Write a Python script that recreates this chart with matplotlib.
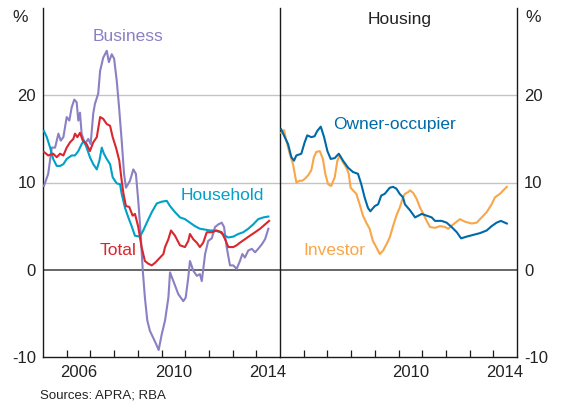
import matplotlib
matplotlib.use("Agg")
import matplotlib.pyplot as plt
from matplotlib.ticker import FixedLocator, NullFormatter

plt.rcParams['font.family'] = ['Liberation Sans', 'DejaVu Sans']

# ---------------- data (growth, %; x in decimal years) ----------------
bus_x = [2005.04, 2005.22, 2005.37, 2005.51, 2005.65, 2005.75, 2005.86, 2006.00, 2006.11, 2006.21,
         2006.32, 2006.42, 2006.49, 2006.56, 2006.63, 2006.77, 2006.91, 2007.01, 2007.12, 2007.19,
         2007.33, 2007.41, 2007.54, 2007.69, 2007.78, 2007.90, 2008.00, 2008.11, 2008.21, 2008.32,
         2008.42, 2008.50, 2008.67, 2008.81, 2008.92, 2009.02, 2009.12, 2009.21, 2009.30, 2009.40,
         2009.51, 2009.65, 2009.77, 2009.88, 2010.01, 2010.15, 2010.29, 2010.36, 2010.50, 2010.71,
         2010.92, 2011.02, 2011.13, 2011.20, 2011.34, 2011.49, 2011.62, 2011.70, 2011.84, 2011.97,
         2012.12, 2012.26, 2012.40, 2012.54, 2012.64, 2012.75, 2012.89, 2013.03, 2013.17, 2013.31,
         2013.41, 2013.52, 2013.66, 2013.81, 2013.95, 2014.08, 2014.23, 2014.37, 2014.51]
bus_y = [9.6, 11.0, 14.0, 14.0, 15.6, 14.8, 15.2, 17.5, 17.1, 18.6,
         19.5, 19.2, 17.1, 18.0, 15.6, 14.4, 15.0, 14.4, 17.9, 19.0,
         20.2, 22.8, 24.3, 25.1, 23.8, 24.7, 24.2, 21.7, 18.6, 14.8,
         11.0, 9.4, 10.2, 11.5, 11.0, 7.9, 4.1, -0.1, -3.2, -5.8,
         -7.0, -7.8, -8.5, -9.2, -7.4, -5.8, -3.2, -0.3, -1.3, -2.8,
         -3.6, -3.2, -0.9, 1.0, -0.1, -0.7, -0.5, -1.3, 1.8, 3.3,
         3.6, 4.9, 5.2, 5.4, 4.9, 2.6, 0.5, 0.5, 0.1, 1.0,
         1.8, 1.4, 2.2, 2.4, 2.0, 2.4, 2.9, 3.5, 4.7]

tot_x = [2005.04, 2005.22, 2005.43, 2005.58, 2005.72, 2005.86, 2006.00, 2006.14, 2006.28, 2006.35,
         2006.45, 2006.56, 2006.68, 2006.84, 2006.98, 2007.12, 2007.27, 2007.41, 2007.54, 2007.69,
         2007.83, 2007.94, 2008.08, 2008.22, 2008.32, 2008.39, 2008.50, 2008.64, 2008.78, 2008.88,
         2009.02, 2009.16, 2009.30, 2009.44, 2009.59, 2009.73, 2009.94, 2010.08, 2010.15, 2010.29,
         2010.40, 2010.57, 2010.78, 2010.99, 2011.13, 2011.20, 2011.34, 2011.49, 2011.62, 2011.76,
         2011.91, 2012.12, 2012.33, 2012.54, 2012.68, 2012.82, 2013.03, 2013.17, 2013.31, 2013.52,
         2013.73, 2013.95, 2014.16, 2014.37, 2014.54]
tot_y = [13.5, 13.1, 13.3, 12.9, 13.3, 13.1, 14.0, 14.6, 15.0, 15.6,
         15.2, 15.7, 14.8, 14.4, 13.6, 14.6, 15.2, 17.5, 17.3, 16.7,
         16.5, 15.2, 14.0, 12.5, 10.2, 8.8, 7.3, 7.2, 6.2, 6.4,
         4.9, 2.6, 1.0, 0.7, 0.5, 0.8, 1.4, 1.8, 2.6, 3.5,
         4.5, 3.9, 2.8, 2.6, 3.3, 4.1, 3.5, 3.1, 2.6, 3.1,
         4.3, 4.3, 4.5, 4.3, 3.5, 2.6, 2.6, 2.8, 3.1, 3.5,
         3.9, 4.3, 4.7, 5.2, 5.6]

hh_x = [2005.04, 2005.16, 2005.30, 2005.43, 2005.58, 2005.72, 2005.86, 2006.00, 2006.21, 2006.35,
        2006.49, 2006.63, 2006.73, 2006.84, 2006.98, 2007.12, 2007.27, 2007.38, 2007.48, 2007.57,
        2007.69, 2007.83, 2007.94, 2008.11, 2008.25, 2008.32, 2008.46, 2008.60, 2008.74, 2008.88,
        2009.09, 2009.23, 2009.38, 2009.59, 2009.80, 2010.01, 2010.22, 2010.36, 2010.57, 2010.78,
        2010.99, 2011.20, 2011.41, 2011.62, 2011.84, 2012.05, 2012.26, 2012.47, 2012.68, 2012.82,
        2013.03, 2013.24, 2013.45, 2013.66, 2013.87, 2014.08, 2014.30, 2014.51]
hh_y = [15.9, 15.2, 14.0, 12.7, 11.9, 11.9, 12.1, 12.7, 13.1, 13.1,
        13.6, 14.4, 14.8, 14.0, 12.9, 12.1, 11.5, 12.5, 14.0, 13.3,
        12.7, 12.1, 10.6, 9.9, 9.8, 8.7, 7.1, 6.0, 5.0, 3.9,
        3.8, 4.5, 5.4, 6.6, 7.6, 7.8, 7.9, 7.3, 6.6, 6.0,
        5.8, 5.4, 5.0, 4.7, 4.6, 4.5, 4.5, 4.3, 3.9, 3.7,
        3.8, 4.1, 4.3, 4.7, 5.2, 5.8, 6.0, 6.1]

own_x = [2005.05, 2005.20, 2005.34, 2005.48, 2005.59, 2005.69, 2005.90, 2006.04, 2006.15, 2006.32,
         2006.46, 2006.57, 2006.72, 2006.86, 2007.00, 2007.14, 2007.31, 2007.48, 2007.66, 2007.87,
         2008.08, 2008.29, 2008.43, 2008.57, 2008.71, 2008.81, 2009.00, 2009.14, 2009.27, 2009.42,
         2009.63, 2009.77, 2009.91, 2010.05, 2010.19, 2010.27, 2010.49, 2010.70, 2010.84, 2010.98,
         2011.19, 2011.40, 2011.54, 2011.82, 2012.03, 2012.24, 2012.46, 2012.64, 2012.88, 2013.16,
         2013.44, 2013.72, 2013.93, 2014.14, 2014.32, 2014.57]
own_y = [16.1, 15.2, 14.4, 12.9, 12.5, 13.1, 13.3, 14.6, 15.4, 15.2,
         15.3, 15.9, 16.4, 15.2, 13.6, 12.7, 12.8, 13.3, 12.5, 11.7,
         11.2, 11.0, 9.8, 8.3, 7.1, 6.7, 7.3, 7.5, 8.5, 8.7,
         9.4, 9.5, 9.3, 8.7, 8.3, 7.5, 6.8, 6.0, 6.2, 6.4,
         6.2, 6.0, 5.6, 5.6, 5.4, 4.9, 4.3, 3.6, 3.8, 4.0,
         4.2, 4.5, 5.0, 5.4, 5.6, 5.3]

inv_x = [2005.05, 2005.17, 2005.27, 2005.41, 2005.55, 2005.69, 2005.83, 2005.93, 2006.04, 2006.18,
         2006.32, 2006.43, 2006.53, 2006.68, 2006.81, 2006.91, 2007.03, 2007.16, 2007.31, 2007.42,
         2007.52, 2007.66, 2007.80, 2007.90, 2007.98, 2008.08, 2008.22, 2008.36, 2008.50, 2008.64,
         2008.78, 2008.92, 2009.06, 2009.21, 2009.35, 2009.49, 2009.63, 2009.77, 2009.91, 2010.05,
         2010.19, 2010.27, 2010.41, 2010.49, 2010.62, 2010.77, 2010.91, 2011.05, 2011.19, 2011.33,
         2011.54, 2011.75, 2011.96, 2012.10, 2012.31, 2012.59, 2012.81, 2013.09, 2013.30, 2013.51,
         2013.72, 2013.93, 2014.07, 2014.28, 2014.42, 2014.57]
inv_y = [15.7, 16.0, 14.8, 13.3, 12.1, 10.0, 10.2, 10.2, 10.4, 10.8,
         11.4, 12.9, 13.5, 13.6, 12.7, 11.0, 9.8, 9.6, 10.6, 12.5,
         13.1, 12.3, 11.7, 11.0, 9.4, 9.1, 8.7, 7.5, 6.2, 5.4,
         4.7, 3.3, 2.6, 1.8, 2.2, 2.9, 3.7, 5.0, 6.2, 7.1,
         8.3, 8.7, 8.9, 9.1, 8.8, 8.1, 7.1, 6.4, 5.6, 4.9,
         4.8, 5.0, 4.9, 4.7, 5.2, 5.8, 5.5, 5.3, 5.4, 6.0,
         6.6, 7.5, 8.3, 8.7, 9.1, 9.5]

left_labels = ['2006', '2010', '2014']
right_labels = ['2010', '2014']
y_ticks = [-10, 0, 10, 20]

c_bus = '#8a80c4'
c_tot = '#d9262f'
c_hh = '#00a1c9'
c_own = '#0069a8'
c_inv = '#f9a64a'

# ---------------- figure ----------------
fig = plt.figure(figsize=(5.63, 4.04), dpi=100)
ax1 = fig.add_axes([43 / 563, 1 - 357 / 404, 237 / 563, 349 / 404])
ax2 = fig.add_axes([280 / 563, 1 - 357 / 404, 237 / 563, 349 / 404])

for ax in (ax1, ax2):
    ax.set_xlim(2005, 2015)
    ax.set_ylim(-10, 30)
    for yv in (10, 20):
        ax.axhline(yv, color='#c4c4c4', lw=1.0, zorder=0)
    ax.axhline(0, color='#5a5a5a', lw=1.3, zorder=1)
    ax.spines['top'].set_visible(False)
    for s in ('left', 'right', 'bottom'):
        ax.spines[s].set_color('#1a1a1a')
        ax.spines[s].set_linewidth(1.0)
    ax.xaxis.set_minor_locator(FixedLocator(list(range(2006, 2015))))
    ax.xaxis.set_minor_formatter(NullFormatter())
    ax.tick_params(axis='x', which='minor', direction='in', length=5, width=0.9, color='#1a1a1a')
    ax.tick_params(axis='x', which='major', length=0, labelsize=12, pad=6, colors='#222222')
    ax.set_yticks(y_ticks)
    ax.tick_params(axis='y', length=0, labelsize=12, colors='#222222', pad=5)

ax1.spines['right'].set_visible(False)
ax1.set_xticks([int(t) + 0.5 for t in left_labels])
ax1.set_xticklabels(left_labels)
ax1.set_yticklabels([str(v) for v in y_ticks])

ax2.set_xticks([int(t) + 0.5 for t in right_labels])
ax2.set_xticklabels(right_labels)
ax2.yaxis.tick_right()
ax2.set_yticklabels([str(v) for v in y_ticks])

lw = 1.5
ax1.plot(bus_x, bus_y, color=c_bus, lw=lw, zorder=3)
ax1.plot(hh_x, hh_y, color=c_hh, lw=lw, zorder=4)
ax1.plot(tot_x, tot_y, color=c_tot, lw=lw, zorder=5)
ax2.plot(inv_x, inv_y, color=c_inv, lw=lw, zorder=3)
ax2.plot(own_x, own_y, color=c_own, lw=lw, zorder=4)

fs = 12.5
ax1.text(2008.59, 26.7, 'Business', color=c_bus, fontsize=fs, ha='center', va='center')
ax1.text(2012.55, 8.5, 'Household', color=c_hh, fontsize=fs, ha='center', va='center')
ax1.text(2008.16, 2.2, 'Total', color=c_tot, fontsize=fs, ha='center', va='center')
ax2.text(2009.85, 16.7, 'Owner-occupier', color=c_own, fontsize=fs, ha='center', va='center')
ax2.text(2007.3, 2.2, 'Investor', color=c_inv, fontsize=fs, ha='center', va='center')
ax2.text(2010.04, 28.7, 'Housing', color='#222222', fontsize=fs, ha='center', va='center')

fig.text(20 / 563, 1 - 17 / 404, '%', fontsize=12.5, ha='center', va='center', color='#222222')
fig.text(533 / 563, 1 - 17 / 404, '%', fontsize=12.5, ha='center', va='center', color='#222222')
fig.text(40 / 563, 1 - 395 / 404, 'Sources: APRA; RBA', fontsize=9.5, ha='left', va='center',
         color='#222222')

fig.savefig('out.png', dpi=100)
